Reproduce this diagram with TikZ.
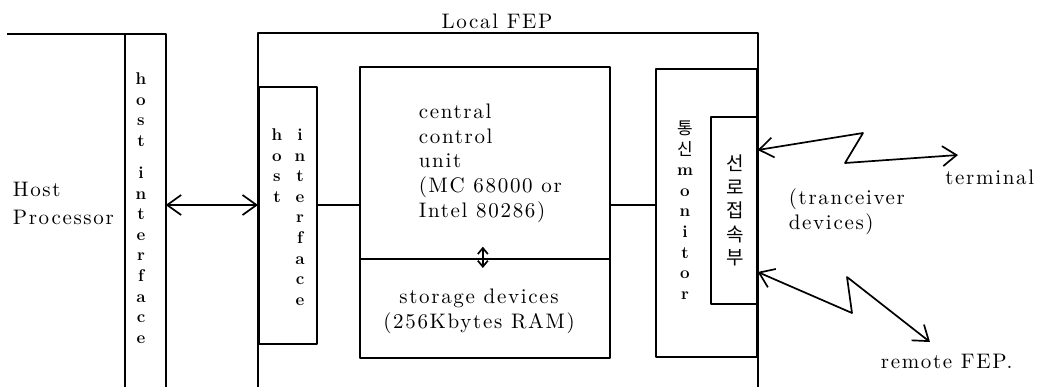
\documentclass[tikz,border=0pt]{standalone}
\usepackage{fontspec}
\newfontfamily\kr{Noto Sans CJK KR}
\newfontfamily\spc{lmroman10-regular.otf}[LetterSpace=8]
\usepackage{tikz}
\usetikzlibrary{arrows.meta,calc}

\begin{document}
\begin{tikzpicture}[x=1pt,y=-1pt,line width=1.7pt,line join=round,
                    >={Straight Barb[length=14pt,width=20pt]}]
  \tikzstyle{blk}=[draw,anchor=north west,inner sep=0pt]
  \tikzstyle{txt}=[font=\spc\fontsize{21}{24.75}\selectfont,inner sep=0pt,align=left]
  \tikzstyle{vtxt}=[font=\fontsize{17}{20.6}\selectfont\bfseries,inner sep=0pt,align=center,anchor=north]
  \useasboundingbox (0,0) rectangle (1039,386);

  \coordinate (HostTop) at (7,34);
  \coordinate (bus)     at (0,205);
  \node[anchor=north west,minimum width=39pt,minimum height=352pt]  (HostCol)  at (125,34) {};
  \node[anchor=north west,minimum width=498pt,minimum height=353pt] (LocalFEP) at (258,33) {};
  \node[blk,minimum width=58pt,minimum height=257pt]  (HostIF)   at (258,86)  {};
  \node[blk,minimum width=250pt,minimum height=192pt] (CCU)      at (359,66)  {};
  \node[blk,minimum width=250pt,minimum height=99pt]  (Storage)  at (359,258) {};
  \node[blk,minimum width=101pt,minimum height=288pt] (Monitor)  at (655,68)  {};
  \node[blk,minimum width=46pt,minimum height=187pt]  (LineUnit) at (710,116) {};

  \draw (HostTop) -- (HostCol.north east) -- (HostCol.south east);
  \draw (HostCol.north west) -- (HostCol.south west);
  \draw (LocalFEP.south west) |- (LocalFEP.north east) -- (LocalFEP.south east);

  \node[txt,anchor=north west,font=\spc\fontsize{21}{28}\selectfont] (HostProc) at (12,181) {Host\\Processor};
  \node[txt,anchor=north] (FEPLabel) at (497,13) {Local FEP};
  \node[txt,anchor=north west] (CCUText) at (418,103) {central\\control\\unit\\(MC 68000 or\\Intel 80286)};
  \node[txt,anchor=north,align=center] (StoreText) at (479,288) {storage devices\\(256Kbytes RAM)};
  \node[txt,anchor=north west] (TrxText) at (788,188) {(tranceiver\\devices)};
  \node[txt,anchor=north east] (Terminal) at (1035,169) {terminal};
  \node[txt,anchor=north west] (RemoteFEP) at (880,353) {remote FEP.};

  \node[vtxt] (HostColText) at (141,72) {h\\o\\s\\t\\[11.5pt]i\\n\\t\\e\\r\\f\\a\\c\\e};
  \node[vtxt] (HostIFa) at (277,128) {h\\o\\s\\t};
  \node[vtxt] (HostIFb) at (300,128) {i\\n\\t\\e\\r\\f\\a\\c\\e};
  \node[vtxt] (MonText) at (685,120) {{\kr\mdseries 통}\\{\kr\mdseries 신}\\m\\o\\n\\i\\t\\o\\r};
  \node[vtxt,font=\kr\fontsize{19}{23.5}\selectfont] (LineText) at (735,154) {선\\로\\접\\속\\부};

  \draw[<->] (HostCol.east |- bus) -- (HostIF.west |- bus);
  \draw (HostIF.east |- bus) -- (CCU.west |- bus);
  \draw (CCU.east |- bus) -- (Monitor.west |- bus);
  \draw[<->,>={Straight Barb[length=6pt,width=10pt]}] ($(CCU.south)+(-2,-13)$) -- ($(Storage.north)+(-2,10)$);

  \coordinate (TermA) at (863,133);
  \coordinate (TermB) at (845,163);
  \coordinate (TermEnd) at (958,155);
  \coordinate (RemA) at (852,313);
  \coordinate (RemB) at (847,277);
  \coordinate (RemEnd) at (930,342);
  \draw[<->] (LineUnit.east |- 0,150) -- (TermA) -- (TermB) -- (TermEnd);
  \draw[<->] (LineUnit.east |- 0,272) -- (RemA) -- (RemB) -- (RemEnd);
\end{tikzpicture}
\end{document}
